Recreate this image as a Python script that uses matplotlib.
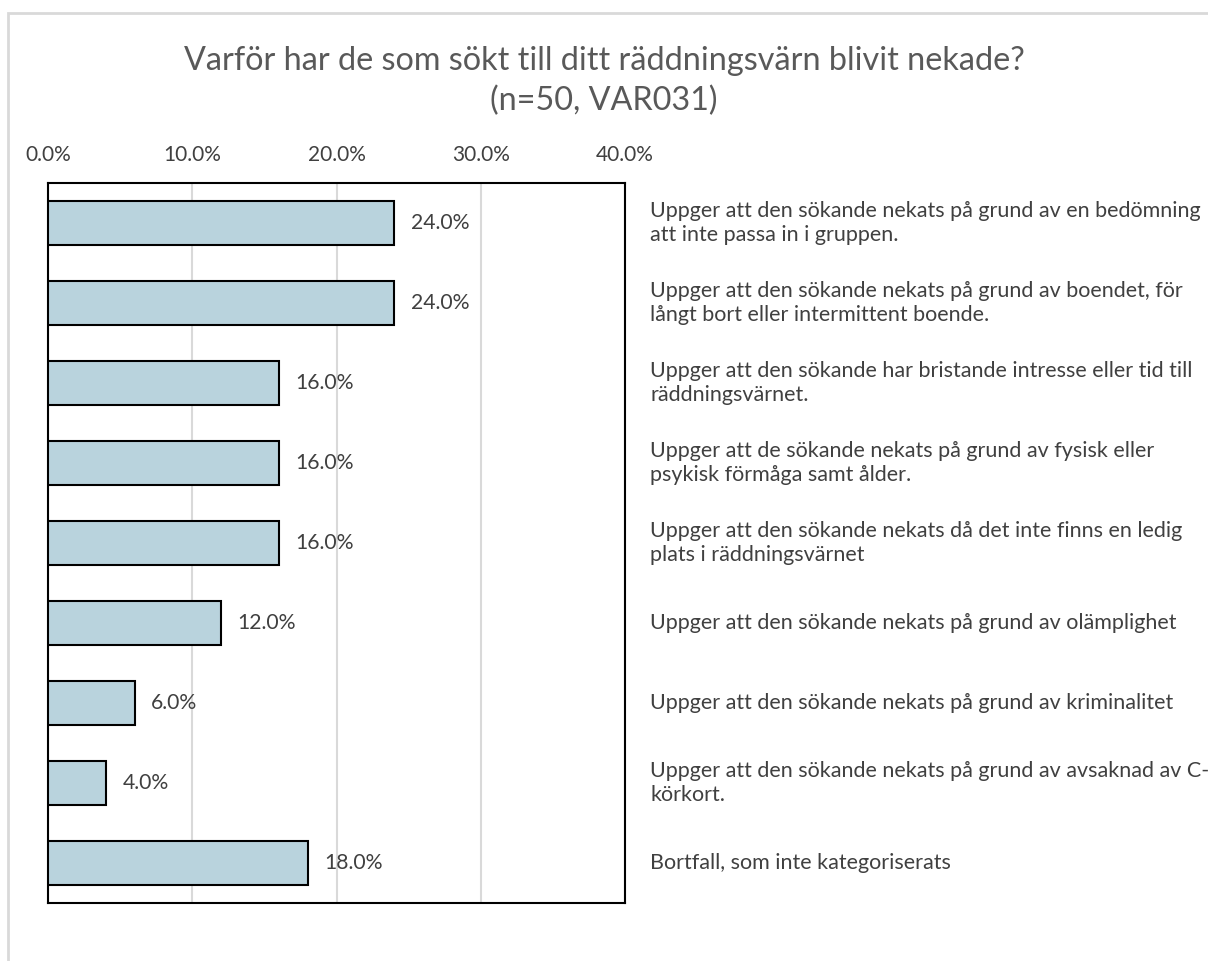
import matplotlib
matplotlib.use('Agg')
import matplotlib.pyplot as plt
from matplotlib.patches import Rectangle
from matplotlib.ticker import FuncFormatter

plt.rcParams['font.family'] = ['Lato', 'DejaVu Sans']

# data, top to bottom
categories = [
    'Uppger att den sökande nekats på grund av en bedömning\natt inte passa in i gruppen.',
    'Uppger att den sökande nekats på grund av boendet, för\nlångt bort eller intermittent boende.',
    'Uppger att den sökande har bristande intresse eller tid till\nräddningsvärnet.',
    'Uppger att de sökande nekats på grund av fysisk eller\npsykisk förmåga samt ålder.',
    'Uppger att den sökande nekats då det inte finns en ledig\nplats i räddningsvärnet',
    'Uppger att den sökande nekats på grund av olämplighet',
    'Uppger att den sökande nekats på grund av kriminalitet',
    'Uppger att den sökande nekats på grund av avsaknad av C-\nkörkort.',
    'Bortfall, som inte kategoriserats',
]
values = [24.0, 24.0, 16.0, 16.0, 16.0, 12.0, 6.0, 4.0, 18.0]
xticks = [0, 10, 20, 30, 40]

text_color = '#404040'
bar_color = '#b9d3dd'

fig = plt.figure(figsize=(12.08, 9.61), dpi=100)
fig.patch.set_facecolor('white')

# light outer frame (only top and left visible in the image)
fig.add_artist(Rectangle((8 / 1208, -0.05), 1.2, 1 - 13 / 961 + 0.05,
                         transform=fig.transFigure, fill=False,
                         edgecolor='#d9d9d9', linewidth=2))

ax = fig.add_axes([48 / 1208, 1 - 903 / 961, (625 - 48) / 1208, 720 / 961])

ypos = list(range(len(values)))
ax.barh(ypos, values, height=0.56, color=bar_color, edgecolor='black',
        linewidth=1.5, zorder=3)
ax.set_ylim(len(values) - 0.5, -0.5)
ax.set_xlim(0, 40)

ax.set_xticks(xticks)
ax.xaxis.set_major_formatter(FuncFormatter(lambda v, p: f'{v:.1f}%'))
ax.xaxis.tick_top()
ax.tick_params(axis='x', length=0, pad=13, labelsize=15, labelcolor=text_color)
ax.set_yticks([])
ax.grid(True, axis='x', color='#d9d9d9', linewidth=1.5, zorder=0)

for s in ax.spines.values():
    s.set_color('black')
    s.set_linewidth(1.5)

for y, v in zip(ypos, values):
    ax.text(v + 1.15, y, f'{v:.1f}%', va='center', ha='left',
            fontsize=15.2, color=text_color)

for y, lab in zip(ypos, categories):
    ax.annotate(lab, xy=(1, y), xycoords=('axes fraction', 'data'),
                xytext=(25, 0), textcoords='offset pixels',
                va='center', ha='left', fontsize=15.5, color=text_color,
                linespacing=1.3)

fig.text(0.5, 1 - 81 / 961,
         'Varför har de som sökt till ditt räddningsvärn blivit nekade?\n(n=50, VAR031)',
         ha='center', va='center', fontsize=23.3, color='#595959',
         linespacing=1.42)

plt.savefig('out.png', dpi=100, facecolor='white')
plt.close()
